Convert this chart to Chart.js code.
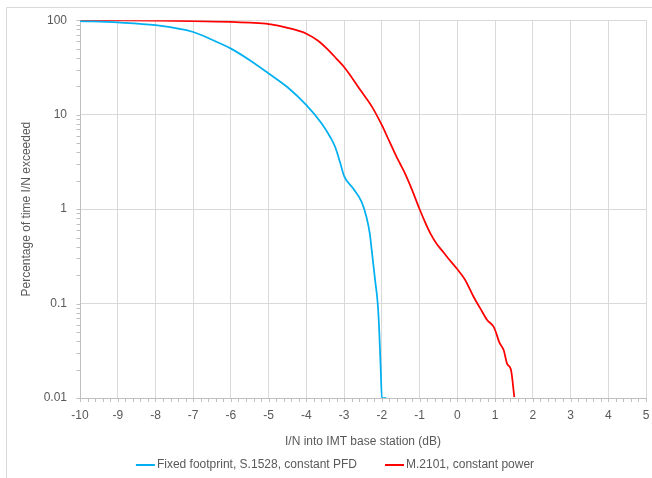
<!DOCTYPE html>
<html>
<head>
<meta charset="utf-8">
<script src="https://cdn.jsdelivr.net/npm/chart.js@4"></script>
<style>
  html, body { margin: 0; padding: 0; background: #ffffff; }
  canvas { display: block; }
</style>
</head>
<body>
<canvas id="c" width="652" height="478"></canvas>
<script>
// ---- data ----
const seriesNames = ['Fixed footprint, S.1528, constant PFD', 'M.2101, constant power'];
const seriesColors = ['#00B0F0', '#FF0000'];

const blueX = [-10, -9, -8, -7, -6.5, -6, -5.5, -5, -4.5, -4, -3.6, -3.37, -3.24, -3.11, -3.0, -2.76, -2.54, -2.41, -2.32, -2.27, -2.18, -2.11, -2.07, -2.03, -2.0, -1.88];
const blueY = [98, 94.6, 88.5, 75, 62, 50, 37.7, 27.3, 19.5, 12.6, 8.1, 5.8, 4.57, 3.15, 2.23, 1.65, 1.2, 0.83, 0.55, 0.37, 0.178, 0.1, 0.052, 0.02, 0.01, 0.01];

const redX = [-10, -9, -8, -7, -6, -5.5, -5, -4.69, -4.5, -4.2, -4, -3.7, -3.41, -3.2, -2.97, -2.57, -2.26, -2.0, -1.8, -1.61, -1.52, -1.4, -1.2, -1.01, -0.85, -0.69, -0.55, -0.42, -0.24, -0.02, 0.2, 0.43, 0.6, 0.79, 0.96, 1.02, 1.11, 1.23, 1.32, 1.42, 1.51];
const redY = [99.8, 99.5, 99, 98, 96, 94, 91, 86.5, 83, 77, 72, 61, 48, 39, 30.8, 18.2, 12.1, 7.74, 5.2, 3.58, 3.04, 2.45, 1.6, 1.02, 0.72, 0.53, 0.43, 0.37, 0.30, 0.236, 0.18, 0.118, 0.09, 0.067, 0.057, 0.05, 0.039, 0.032, 0.023, 0.020, 0.0102];

const xMin = -10, xMax = 5, xStep = 1;
const yTickValues = [0.01, 0.1, 1, 10, 100];
const xTitle = 'I/N into IMT base station (dB)';
const yTitle = 'Percentage of time I/N exceeded';

// ---- build ----
const toPts = (xs, ys) => xs.map((x, i) => ({x: x, y: ys[i]}));
const FONT = "'Liberation Sans', Arial, sans-serif";
const TXT = '#595959';
const GRID = '#d9d9d9';
const AXIS = '#bfbfbf';

const framePlugin = {
  id: 'frame',
  beforeDraw(chart) {
    const ctx = chart.ctx;
    ctx.save();
    ctx.strokeStyle = GRID;
    ctx.lineWidth = 1;
    ctx.beginPath();
    ctx.moveTo(6.5, chart.height + 2);
    ctx.lineTo(6.5, 7.5);
    ctx.lineTo(chart.width + 2, 7.5);
    ctx.stroke();
    ctx.restore();
  }
};

const minorTicksPlugin = {
  id: 'minorTicks',
  afterDatasetsDraw(chart) {
    const ctx = chart.ctx;
    const xs = chart.scales.x, ys = chart.scales.y;
    const a = chart.chartArea;
    ctx.save();
    ctx.strokeStyle = AXIS;
    ctx.lineWidth = 1;
    ctx.beginPath();
    const n = Math.round((xMax - xMin) / 0.2);
    for (let i = 0; i <= n; i++) {
      const px = Math.round(xs.getPixelForValue(xMin + i * 0.2)) + 0.5;
      ctx.moveTo(px, Math.round(a.bottom) + 0.5);
      ctx.lineTo(px, Math.round(a.bottom) + 4);
    }
    for (let d = 0; d < yTickValues.length; d++) {
      for (let m = 1; m <= 9; m++) {
        const v = yTickValues[d] * m;
        if (v > yTickValues[yTickValues.length - 1] + 1e-9) continue;
        const py = Math.round(ys.getPixelForValue(v)) + 0.5;
        ctx.moveTo(Math.round(a.left) - 3.5, py);
        ctx.lineTo(Math.round(a.left) + 0.5, py);
      }
    }
    ctx.stroke();
    ctx.restore();
  }
};

const legendPlugin = {
  id: 'customLegend',
  afterDraw(chart) {
    const ctx = chart.ctx;
    ctx.save();
    ctx.font = '12px ' + FONT;
    ctx.textBaseline = 'middle';
    const lineW = 19, gapAfterLine = 2, gapBetween = 28;
    const items = chart.data.datasets.map(ds => ({
      text: ds.label, color: ds.borderColor, w: ctx.measureText(ds.label).width
    }));
    const total = items.reduce((s, it) => s + lineW + gapAfterLine + it.w, 0) + gapBetween * (items.length - 1);
    let x = (137 + 533) / 2 - total / 2;
    const y = 465;
    items.forEach(it => {
      ctx.strokeStyle = it.color;
      ctx.lineWidth = 2;
      ctx.beginPath();
      ctx.moveTo(x, y);
      ctx.lineTo(x + lineW, y);
      ctx.stroke();
      x += lineW + gapAfterLine;
      ctx.fillStyle = TXT;
      ctx.textAlign = 'left';
      ctx.fillText(it.text, x, y);
      x += it.w + gapBetween;
    });
    ctx.restore();
  }
};

new Chart(document.getElementById('c'), {
  type: 'line',
  data: {
    datasets: [
      { label: seriesNames[0], data: toPts(blueX, blueY), borderColor: seriesColors[0], backgroundColor: seriesColors[0], borderWidth: 1.75, pointRadius: 0, cubicInterpolationMode: 'monotone', fill: false },
      { label: seriesNames[1], data: toPts(redX, redY), borderColor: seriesColors[1], backgroundColor: seriesColors[1], borderWidth: 1.75, pointRadius: 0, cubicInterpolationMode: 'monotone', fill: false }
    ]
  },
  options: {
    responsive: false,
    animation: false,
    layout: { padding: { left: 0, right: 6, top: 20, bottom: 24 } },
    plugins: {
      legend: { display: false },
      tooltip: { enabled: false }
    },
    scales: {
      x: {
        type: 'linear',
        min: xMin, max: xMax,
        ticks: { stepSize: xStep, color: TXT, font: { family: FONT, size: 12 }, padding: 10, maxRotation: 0, autoSkip: false },
        grid: { color: GRID, drawTicks: false },
        border: { color: AXIS },
        title: { display: true, text: xTitle, color: TXT, font: { family: FONT, size: 12 }, padding: { top: 0, bottom: 5 } },
        afterFit: s => { s.height = 56; s.paddingLeft = 0; s.paddingRight = 4; }
      },
      y: {
        type: 'logarithmic',
        min: yTickValues[0], max: yTickValues[yTickValues.length - 1],
        afterBuildTicks: s => { s.ticks = yTickValues.map(v => ({ value: v })); },
        ticks: { color: TXT, font: { family: FONT, size: 12 }, padding: 13, callback: v => String(v) },
        grid: { color: GRID, drawTicks: false },
        border: { color: AXIS },
        title: { display: true, text: yTitle, color: TXT, font: { family: FONT, size: 12 }, padding: { top: 19, bottom: 0 } },
        afterFit: s => { s.width = 80; }
      }
    }
  },
  plugins: [framePlugin, minorTicksPlugin, legendPlugin]
});
</script>
</body>
</html>
